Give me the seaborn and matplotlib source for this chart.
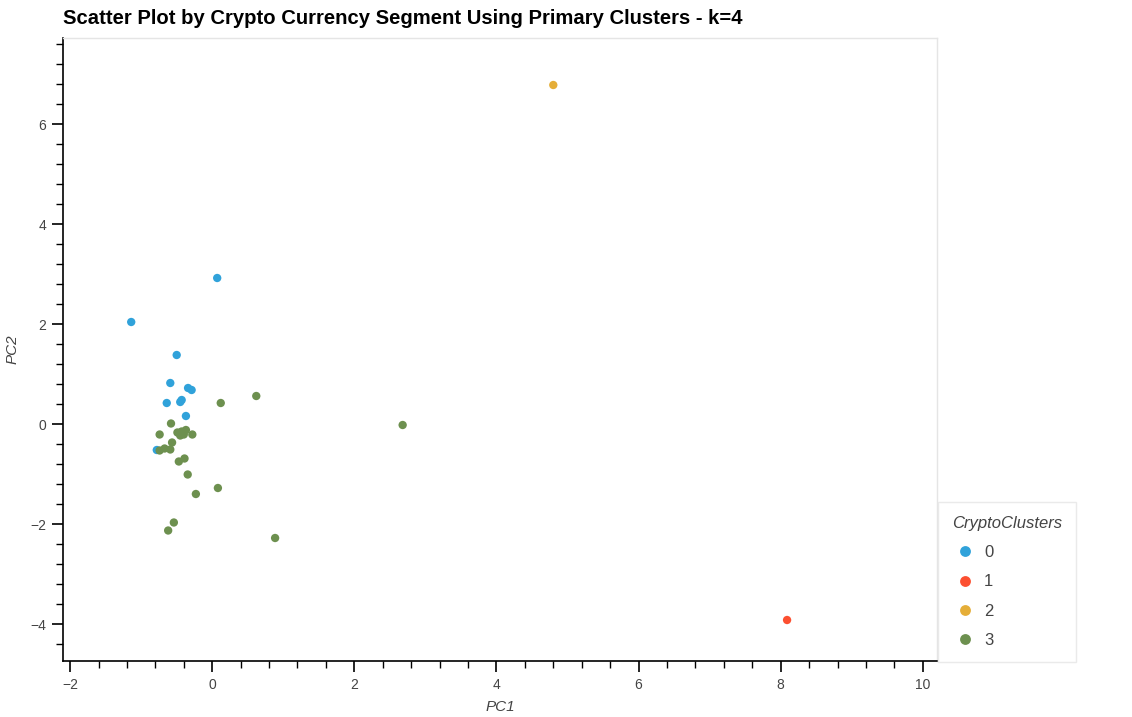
import matplotlib
matplotlib.use("Agg")
import matplotlib.pyplot as plt
import seaborn as sns
import pandas as pd
from matplotlib.ticker import MultipleLocator

# ---- data ----
pc1_c0 = [0.07, -1.14, -0.50, -0.59, -0.34, -0.29, -0.64, -0.43, -0.45, -0.37, -0.78]
pc2_c0 = [2.92, 2.04, 1.38, 0.82, 0.72, 0.68, 0.42, 0.48, 0.44, 0.16, -0.52]

pc1_c1 = [8.09]
pc2_c1 = [-3.92]

pc1_c2 = [4.80]
pc2_c2 = [6.78]

pc1_c3 = [0.12, 0.62, 2.68, 0.885, 0.08, -0.58, -0.74, -0.49, -0.43, -0.37, -0.45,
          -0.40, -0.28, -0.565, -0.74, -0.67, -0.59, -0.47, -0.39, -0.345, -0.23,
          -0.54, -0.62]
pc2_c3 = [0.42, 0.56, -0.02, -2.28, -1.28, 0.01, -0.21, -0.17, -0.15, -0.12, -0.23,
          -0.21, -0.21, -0.37, -0.53, -0.49, -0.51, -0.75, -0.69, -1.01, -1.40,
          -1.97, -2.13]

clusters = ["0", "1", "2", "3"]
colors = ["#30a2da", "#fc4f30", "#e5ae38", "#6d904f"]

frames = []
for c, xs, ys in zip(clusters, [pc1_c0, pc1_c1, pc1_c2, pc1_c3],
                     [pc2_c0, pc2_c1, pc2_c2, pc2_c3]):
    frames.append(pd.DataFrame({"PC1": xs, "PC2": ys, "CryptoClusters": c}))
df = pd.concat(frames, ignore_index=True)

sns.set_style("white")
plt.rcParams["font.family"] = ["Liberation Sans", "DejaVu Sans"]

W, H = 1132, 717
fig = plt.figure(figsize=(W / 100, H / 100), dpi=100)
ax = fig.add_axes([63 / W, 1 - 661 / H, (937 - 63) / W, (661 - 38) / H])

sns.scatterplot(data=df, x="PC1", y="PC2", hue="CryptoClusters",
                hue_order=clusters, palette=dict(zip(clusters, colors)),
                s=36, linewidth=0, ax=ax, legend=True)

ax.set_xlim(-2.1, 10.2)
ax.set_ylim(-4.74, 7.72)

ax.xaxis.set_major_locator(MultipleLocator(2))
ax.xaxis.set_minor_locator(MultipleLocator(0.4))
ax.yaxis.set_major_locator(MultipleLocator(2))
ax.yaxis.set_minor_locator(MultipleLocator(0.4))

ax.tick_params(axis="both", which="major", direction="out", length=8, width=1.2,
               color="black", labelsize=10, labelcolor="#444444",
               bottom=True, left=True)
ax.tick_params(axis="x", which="major", pad=4)
ax.tick_params(axis="y", which="major", pad=4)
ax.tick_params(axis="both", which="minor", direction="out", length=5, width=1,
               color="black", bottom=True, left=True)

for side in ["left", "bottom"]:
    ax.spines[side].set_color("black")
    ax.spines[side].set_linewidth(1.2)
for side in ["top", "right"]:
    ax.spines[side].set_color("#e5e5e5")
    ax.spines[side].set_linewidth(1)

ax.set_xlabel("PC1", fontstyle="italic", fontsize=11, color="#444444", labelpad=6)
ax.set_ylabel("PC2", fontstyle="italic", fontsize=11, color="#444444", labelpad=8)

fig.text(63 / W, 1 - 18 / H, "Scatter Plot by Crypto Currency Segment Using Primary Clusters - k=4",
         fontsize=14.6, fontweight="bold", color="black", va="center", ha="left")

leg = ax.legend(title="CryptoClusters", loc="lower left",
                bbox_to_anchor=(938 / W, 1 - 662 / H), bbox_transform=fig.transFigure,
                borderaxespad=0, frameon=True, fancybox=False, fontsize=12,
                title_fontsize=12, markerscale=1.3, handlelength=1.56,
                handletextpad=0.36, labelspacing=0.85, borderpad=0.85,
                alignment="left")
leg.get_frame().set_edgecolor("#e5e5e5")
leg.get_frame().set_linewidth(1)
leg.get_title().set_fontstyle("italic")
leg.get_title().set_color("#444444")
for t in leg.get_texts():
    t.set_color("#444444")

fig.savefig("out.png", dpi=100)
